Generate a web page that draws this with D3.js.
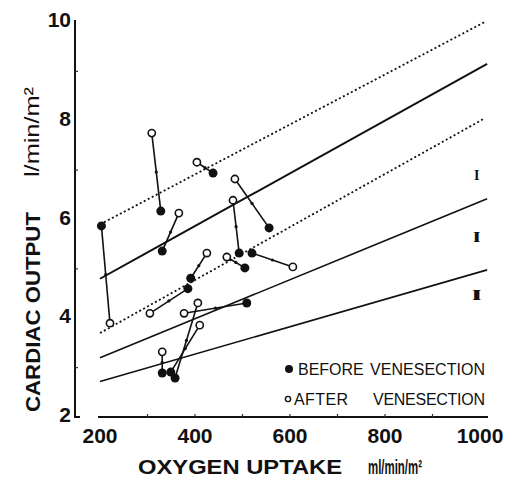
<!DOCTYPE html>
<html>
<head>
<meta charset="utf-8">
<script src="https://d3js.org/d3.v7.min.js"></script>
<style>
  body { margin: 0; background: #fff; }
  text { font-family: "Liberation Sans", Arial, sans-serif; fill: #111; }
</style>
</head>
<body>
<script>
    // tick labels
    const xTicks = [200, 400, 600, 800, 1000];
    const yTicks = [2, 4, 6, 8, 10];

    // paired subjects: before venesection -> after venesection
    const beforeX = [203, 328, 331, 438, 556, 493, 520, 505, 391, 385, 509, 331, 349, 358];
    const beforeY = [5.87, 6.17, 5.36, 6.94, 5.83, 5.32, 5.32, 5.02, 4.81, 4.60, 4.31, 2.89, 2.91, 2.79];
    const afterX  = [221, 309, 366, 404, 484, 480, 606, 467, 425, 305, 377, 331, 410, 406];
    const afterY  = [3.90, 7.75, 6.13, 7.16, 6.82, 6.39, 5.04, 5.24, 5.32, 4.10, 4.10, 3.32, 3.86, 4.31];

    // regression lines (solid) at x = 200 and x = 1015
    const regX = [200, 1015];
    const regNames = ["I", "II", "III"];
    const regStart = [4.80, 3.20, 2.72];
    const regEnd = [9.15, 6.42, 4.98];
    const regLabelY = [6.9, 5.64, 4.47];

    // confidence limits of line I (dotted)
    const confX = [200, 1010];
    const confUpper = [5.9, 10.0];
    const confLower = [3.7, 8.05];

    let width = 519, height = 479;
    let svg = d3.select("body").append("svg")
        .attr("width", width)
        .attr("height", height);

    let x = d3.scaleLinear().domain([200, 1000]).range([100, 480]);
    let y = d3.scaleLinear().domain([2, 10]).range([417, 22]);

    // axes
    svg.append("line")
        .attr("x1", 75).attr("x2", 75)
        .attr("y1", y(10) - 2).attr("y2", y(2) + 1)
        .style("stroke", "#111").style("stroke-width", 2);
    svg.append("line")
        .attr("x1", 75).attr("x2", 80)
        .attr("y1", y(2)).attr("y2", y(2))
        .style("stroke", "#111").style("stroke-width", 2);
    svg.append("line")
        .attr("x1", x(200) - 2).attr("x2", x(1000) + 8)
        .attr("y1", y(2)).attr("y2", y(2))
        .style("stroke", "#111").style("stroke-width", 2);

    // minor ticks
    svg.selectAll(".ytick")
        .data(d3.range(3, 10, 2))
        .join("line")
            .attr("x1", 75).attr("x2", 78)
            .attr("y1", d => y(d)).attr("y2", d => y(d))
            .style("stroke", "#333").style("stroke-width", 1.2);
    svg.selectAll(".xtick")
        .data(d3.range(300, 1000, 100))
        .join("line")
            .attr("x1", d => x(d)).attr("x2", d => x(d))
            .attr("y1", y(2)).attr("y2", y(2) - 3)
            .style("stroke", "#333").style("stroke-width", 1.2);

    // tick labels
    svg.selectAll(".ylab")
        .data(yTicks)
        .join("text")
            .attr("x", 71)
            .attr("y", d => y(d) + 5)
            .attr("text-anchor", "end")
            .style("font-size", "21px")
            .style("font-weight", "bold")
            .text(d => d);
    svg.selectAll(".xlab")
        .data(xTicks)
        .join("text")
            .attr("x", d => x(d))
            .attr("y", 443)
            .attr("text-anchor", "middle")
            .style("font-size", "21px")
            .style("font-weight", "bold")
            .text(d => d);

    // axis titles
    svg.append("text")
        .attr("x", 138).attr("y", 474)
        .attr("textLength", 204)
        .attr("lengthAdjust", "spacingAndGlyphs")
        .style("font-size", "21px")
        .style("font-weight", "bold")
        .text("OXYGEN UPTAKE");
    svg.append("text")
        .attr("x", 368).attr("y", 474)
        .attr("textLength", 54)
        .attr("lengthAdjust", "spacingAndGlyphs")
        .style("font-size", "20px")
        .style("font-weight", "bold")
        .text("ml/min/m²");
    svg.append("text")
        .attr("transform", "translate(40,312) rotate(-90)")
        .attr("text-anchor", "middle")
        .attr("textLength", 200)
        .attr("lengthAdjust", "spacingAndGlyphs")
        .style("font-size", "21px")
        .style("font-weight", "bold")
        .text("CARDIAC OUTPUT");
    svg.append("text")
        .attr("transform", "translate(39,132) rotate(-90)")
        .attr("text-anchor", "middle")
        .attr("textLength", 90)
        .attr("lengthAdjust", "spacingAndGlyphs")
        .style("font-size", "21px")
        .text("l/min/m²");

    // regression lines
    svg.selectAll(".reg")
        .data(regNames)
        .join("line")
            .attr("x1", x(regX[0])).attr("x2", x(regX[1]))
            .attr("y1", (d, i) => y(regStart[i]))
            .attr("y2", (d, i) => y(regEnd[i]))
            .style("stroke", "#111")
            .style("stroke-width", (d, i) => i == 0 ? 2 : 1.6);

    [confUpper, confLower].forEach(c => {
        svg.append("line")
            .attr("x1", x(confX[0])).attr("x2", x(confX[1]))
            .attr("y1", y(c[0])).attr("y2", y(c[1]))
            .style("stroke", "#111")
            .style("stroke-width", 1.8)
            .style("stroke-dasharray", "2,2.5");
    });

    // roman numerals (glyphs overlap so each reads as one heavier bar)
    svg.selectAll(".roman")
        .data(regNames)
        .join("text")
            .attr("x", x(989))
            .attr("y", (d, i) => y(regLabelY[i]) + 5)
            .attr("text-anchor", "middle")
            .style("font-family", "'Liberation Serif', serif")
            .style("font-size", "14px")
            .style("font-weight", "bold")
            .style("letter-spacing", "-4px")
            .text(d => d);

    // pair links
    svg.selectAll(".pair")
        .data(beforeX)
        .join("line")
            .attr("x1", (d, i) => x(beforeX[i]))
            .attr("y1", (d, i) => y(beforeY[i]))
            .attr("x2", (d, i) => x(afterX[i]))
            .attr("y2", (d, i) => y(afterY[i]))
            .style("stroke", "#111")
            .style("stroke-width", 1.6);
    svg.selectAll(".mid")
        .data(beforeX)
        .join("circle")
            .attr("cx", (d, i) => x((beforeX[i] + afterX[i]) / 2))
            .attr("cy", (d, i) => y((beforeY[i] + afterY[i]) / 2))
            .attr("r", 1.6)
            .style("fill", "#111");

    // points
    svg.selectAll(".before")
        .data(beforeX)
        .join("circle")
            .attr("cx", (d, i) => x(beforeX[i]))
            .attr("cy", (d, i) => y(beforeY[i]))
            .attr("r", 4.5)
            .style("fill", "#111");
    svg.selectAll(".after")
        .data(afterX)
        .join("circle")
            .attr("cx", (d, i) => x(afterX[i]))
            .attr("cy", (d, i) => y(afterY[i]))
            .attr("r", 3.6)
            .style("fill", "#fff")
            .style("stroke", "#111")
            .style("stroke-width", 1.6);

    // legend
    svg.append("circle").attr("cx", 289).attr("cy", 369).attr("r", 4).style("fill", "#111");
    svg.append("text").attr("x", 298).attr("y", 375)
        .style("font-size", "16px").text("BEFORE");
    svg.append("text").attr("x", 370).attr("y", 375).attr("textLength", 115)
        .style("font-size", "16px").text("VENESECTION");
    svg.append("circle").attr("cx", 288).attr("cy", 399).attr("r", 2.6)
        .style("fill", "#fff").style("stroke", "#111").style("stroke-width", 1.4);
    svg.append("text").attr("x", 294).attr("y", 405).attr("textLength", 54)
        .style("font-size", "16px").text("AFTER");
    svg.append("text").attr("x", 373).attr("y", 405).attr("textLength", 112)
        .style("font-size", "16px").text("VENESECTION");
</script>
</body>
</html>
